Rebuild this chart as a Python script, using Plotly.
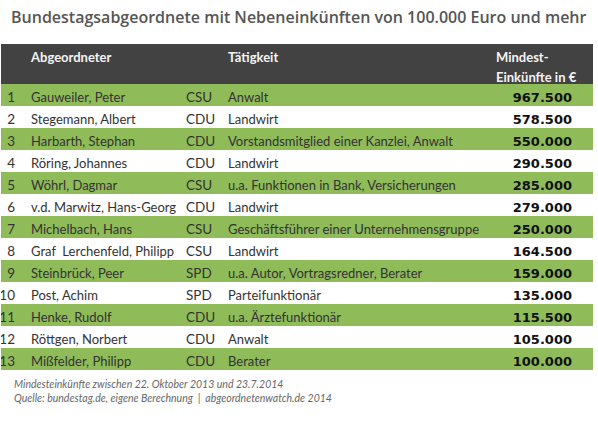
import plotly.graph_objects as go

# data
ranks = [str(i) for i in range(1, 14)]
names = [
    "Gauweiler, Peter", "Stegemann, Albert", "Harbarth, Stephan", "Röring, Johannes",
    "Wöhrl, Dagmar", "v.d. Marwitz, Hans-Georg", "Michelbach, Hans", "Graf  Lerchenfeld, Philipp",
    "Steinbrück, Peer", "Post, Achim", "Henke, Rudolf", "Röttgen, Norbert", "Mißfelder, Philipp",
]
parties = ["CSU", "CDU", "CDU", "CDU", "CSU", "CDU", "CSU", "CSU", "SPD", "SPD", "CDU", "CDU", "CDU"]
jobs = [
    "Anwalt", "Landwirt", "Vorstandsmitglied einer Kanzlei, Anwalt", "Landwirt",
    "u.a. Funktionen in Bank, Versicherungen", "Landwirt", "Geschäftsführer einer Unternehmensgruppe",
    "Landwirt", "u.a. Autor, Vortragsredner, Berater", "Parteifunktionär", "u.a. Ärztefunktionär",
    "Anwalt", "Berater",
]
income = [967500, 578500, 550000, 290500, 285000, 279000, 250000, 164500, 159000, 135000, 115500, 105000, 100000]
header_top = ["", "Abgeordneter", "", "Tätigkeit", "Mindest-"]
header_bottom = ["", "", "", "", "Einkünfte in €"]

GREEN = "#8fbb59"
DARK = "#424242"
W, H = 598, 426


def nobreak(s):
    # keep plotly's table from wrapping the text
    return s.replace(" ", "\u00a0")


# German thousands separator
income_txt = [f"{v:,}".replace(",", ".") for v in income]
row_fill = [GREEN if i % 2 == 0 else "white" for i in range(len(names))]

fig = go.Figure()
fig.add_trace(go.Table(
    domain=dict(x=[1 / W, 593 / W], y=[0, 1 - 44 / H]),
    columnwidth=[22, 155, 42, 268, 105],
    header=dict(
        values=[[t, b] for t, b in zip(header_top, header_bottom)],
        fill_color=DARK,
        line=dict(width=0, color=DARK),
        align=["right", "left", "left", "left", "left"],
        font=dict(family="Lato", size=13, color="#f4f4f4", weight="bold"),
        height=20,
    ),
    cells=dict(
        values=[ranks, [nobreak(n) for n in names], parties, [nobreak(j) for j in jobs], income_txt],
        fill_color=[row_fill] * 5,
        line=dict(width=0, color="white"),
        align=["right", "left", "left", "left", "right"],
        suffix=[None, None, None, None, "\u2003"],
        font=dict(
            family=["Lato", "Lato", "Lato", "Lato", "DejaVu Sans"],
            size=[13.5, 13, 13.5, 13, 13],
            color=["#333333", "#333333", "#333333", "#333333", "#111111"],
            weight=["normal", "normal", "normal", "normal", "bold"],
        ),
        height=22,
    ),
))

fig.add_annotation(
    text="Bundestagsabgeordnete mit Nebeneinkünften von 100.000 Euro und mehr",
    x=0.5, y=1 - 17 / H, xref="paper", yref="paper", xanchor="center", yanchor="middle",
    showarrow=False, font=dict(family="Open Sans", size=16, color="#555555", weight=600),
)
fig.add_annotation(
    text="<i>Mindesteinkünfte zwischen 22. Oktober 2013 und 23.7.2014<br>"
         "Quelle: bundestag.de, eigene Berechnung  |  abgeordnetenwatch.de 2014</i>",
    x=12 / W, y=1 - 376 / H, xref="paper", yref="paper", xanchor="left", yanchor="top",
    align="left", showarrow=False, font=dict(family="Lato", size=10.5, color="#666666"),
)

fig.update_layout(
    width=W, height=H,
    margin=dict(l=0, r=0, t=0, b=0),
    paper_bgcolor="white",
    plot_bgcolor="white",
)

# drop the default 8px page margin so the figure fills the window
fig.write_html(
    "out.html",
    config={"displayModeBar": False},
    post_script="document.body.style.margin = '0';",
)
